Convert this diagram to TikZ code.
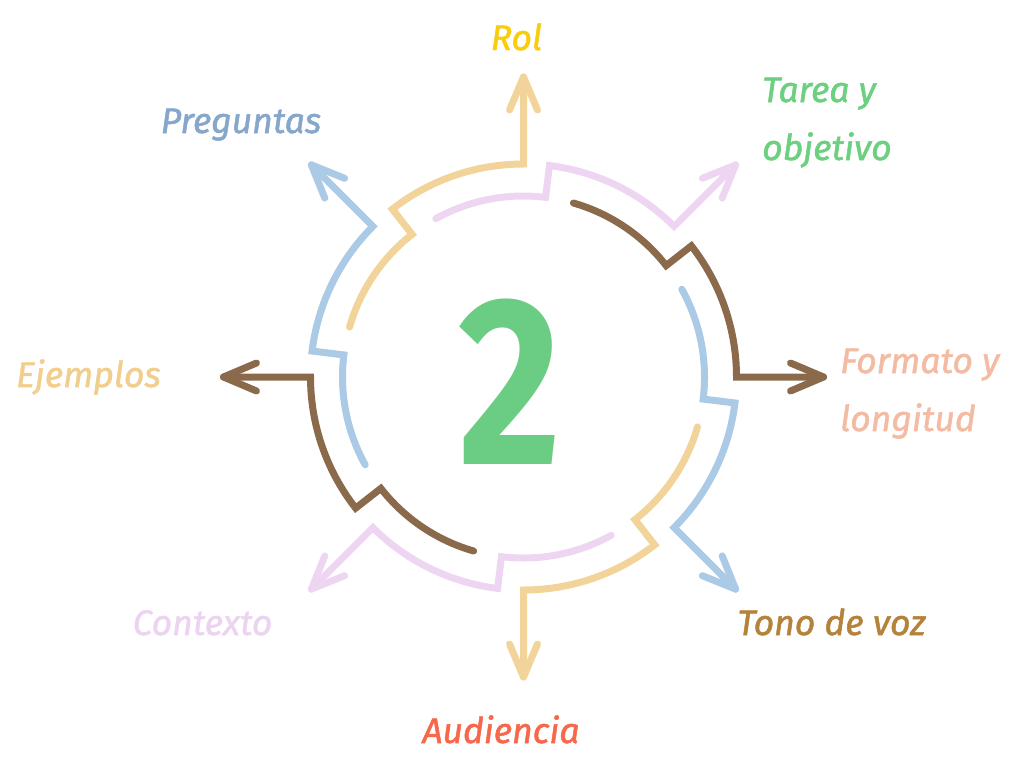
\documentclass[tikz,border=0pt]{standalone}
\usepackage{fontspec}
\setmainfont{Fira Sans}
\newfontfamily\labfont{Fira Sans}[FakeBold=1.4]
\definecolor{arY}{HTML}{F2D49B}
\definecolor{arP}{HTML}{EED6F3}
\definecolor{arB}{HTML}{8B6A4C}
\definecolor{arL}{HTML}{ABCAE6}
\definecolor{tRol}{HTML}{F9CD0A}
\definecolor{tPre}{HTML}{86A6CB}
\definecolor{tTar}{HTML}{6DCF80}
\definecolor{tFor}{HTML}{F4BBA3}
\definecolor{tEje}{HTML}{F1CE8E}
\definecolor{tCon}{HTML}{ECD4F1}
\definecolor{tTon}{HTML}{B5823A}
\definecolor{tAud}{HTML}{F8674A}
\definecolor{two}{HTML}{6BCD83}
\begin{document}
\begin{tikzpicture}[x=1pt,y=1pt,
  flow/.style={line width=7pt, line cap=round, line join=miter},
  lab/.style={inner sep=0pt, font=\fontsize{35.5}{58}\labfont\itshape}]
\useasboundingbox (0,0) rectangle (1024,-768);
\coordinate (C) at (523.5,-377);
\begin{scope}[shift={(C)}]
\foreach \p/\c in {90/arY,45/arP,0/arB,-45/arL,-90/arY,-135/arP,180/arB,135/arL}{
  \draw[flow,\c] (\p+74:181) arc[start angle=\p+74, end angle=\p+38, radius=181]
     -- (\p+38:213) arc[start angle=\p+38, end angle=\p, radius=213] -- (\p:300);
  \begin{scope}[rotate=\p]
    \draw[flow,\c,line join=round] (267,14) -- (300,0) -- (267,-14);
  \end{scope}
}
\end{scope}
\node[inner sep=0pt, text=two, font=\fontsize{240}{240}\selectfont\bfseries, xscale=0.83] (num) at (510,-382) {2};
\node[lab, text=tRol, anchor=base] (rol) at (516.5,-50) {Rol};
\node[lab, text=tPre, anchor=base] (pre) at (241,-133) {Preguntas};
\node[lab, text=tTar, anchor=base west, align=left] (tar) at (762,-160) {Tarea y\\objetivo};
\node[lab, text=tFor, anchor=base west, align=left] (for) at (840,-431) {Formato y\\longitud};
\node[lab, text=tEje, anchor=base] (eje) at (88.5,-387) {Ejemplos};
\node[lab, text=tCon, anchor=base] (con) at (202.5,-635) {Contexto};
\node[lab, text=tTon, anchor=base] (ton) at (831.5,-635) {Tono de voz};
\node[lab, text=tAud, anchor=base] (aud) at (501,-743) {Audiencia};
\end{tikzpicture}
\end{document}
